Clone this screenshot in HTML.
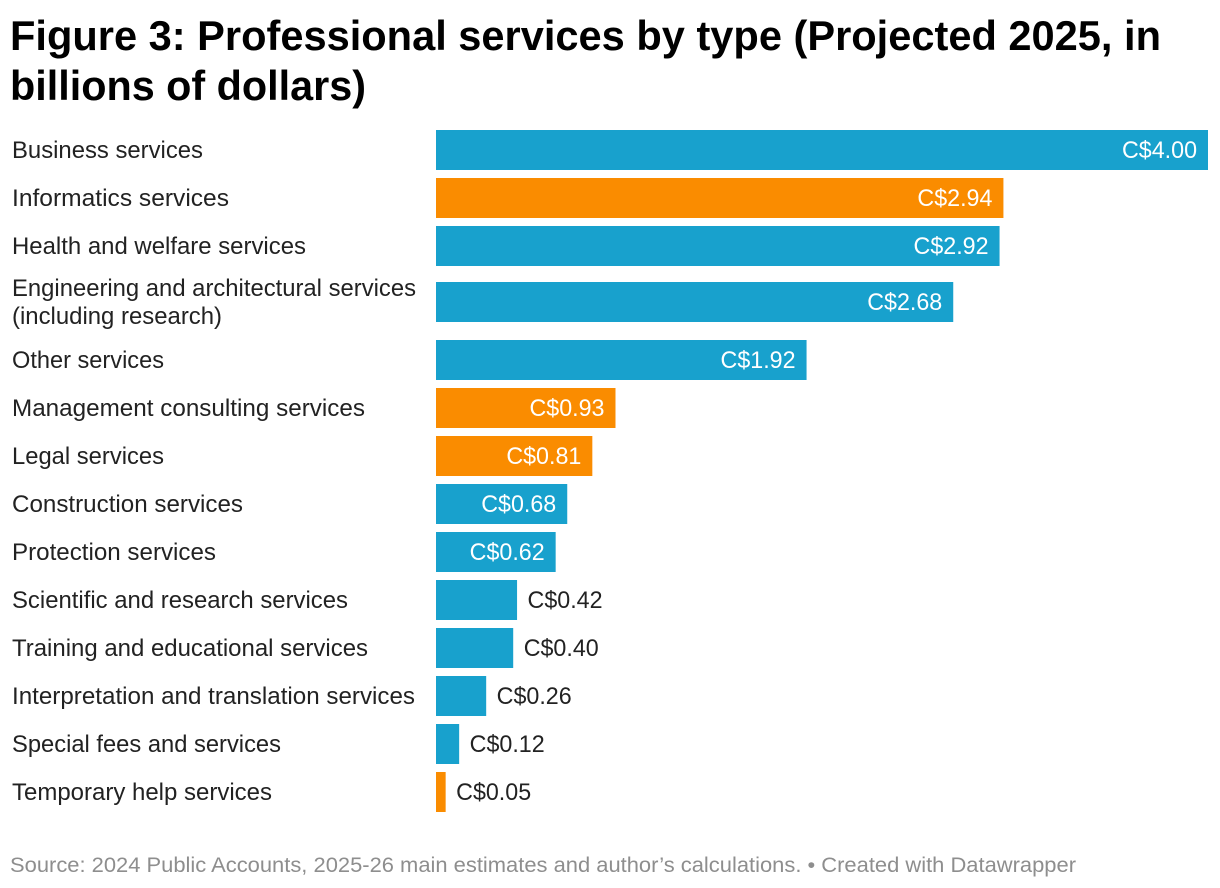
<!DOCTYPE html>
<html lang="en">
<head>
<meta charset="utf-8">
<title>Figure 3: Professional services by type</title>
<style>
html,body{margin:0;padding:0;background:#fff;width:1220px;height:888px;overflow:hidden}
svg{display:block;font-family:"Liberation Sans",Arial,sans-serif}
.title{font-size:42px;font-weight:700;fill:#000}
.cat{font-size:24px;fill:#222}
.val{font-size:24px}
.foot{font-size:21px;fill:#8e8e8e}
</style>
</head>
<body>
<svg id="chart" xmlns="http://www.w3.org/2000/svg" width="1220" height="888" viewBox="0 0 1220 888">
  <g>
    <text class="title" x="10" y="50" textLength="1151" lengthAdjust="spacingAndGlyphs">Figure 3: Professional services by type (Projected 2025, in</text>
    <text class="title" x="10" y="100" textLength="356" lengthAdjust="spacingAndGlyphs">billions of dollars)</text>
  </g>
  <g>
    <text class="cat" x="12" y="158" textLength="191" lengthAdjust="spacingAndGlyphs">Business services</text>
    <text class="cat" x="12" y="206" textLength="217" lengthAdjust="spacingAndGlyphs">Informatics services</text>
    <text class="cat" x="12" y="254" textLength="294" lengthAdjust="spacingAndGlyphs">Health and welfare services</text>
    <text class="cat" x="12" y="296" textLength="404" lengthAdjust="spacingAndGlyphs">Engineering and architectural services</text>
    <text class="cat" x="12" y="324" textLength="210" lengthAdjust="spacingAndGlyphs">(including research)</text>
    <text class="cat" x="12" y="368" textLength="152" lengthAdjust="spacingAndGlyphs">Other services</text>
    <text class="cat" x="12" y="416" textLength="353" lengthAdjust="spacingAndGlyphs">Management consulting services</text>
    <text class="cat" x="12" y="464" textLength="152" lengthAdjust="spacingAndGlyphs">Legal services</text>
    <text class="cat" x="12" y="512" textLength="231" lengthAdjust="spacingAndGlyphs">Construction services</text>
    <text class="cat" x="12" y="560" textLength="204" lengthAdjust="spacingAndGlyphs">Protection services</text>
    <text class="cat" x="12" y="608" textLength="336" lengthAdjust="spacingAndGlyphs">Scientific and research services</text>
    <text class="cat" x="12" y="656" textLength="356" lengthAdjust="spacingAndGlyphs">Training and educational services</text>
    <text class="cat" x="12" y="704" textLength="403" lengthAdjust="spacingAndGlyphs">Interpretation and translation services</text>
    <text class="cat" x="12" y="752" textLength="269" lengthAdjust="spacingAndGlyphs">Special fees and services</text>
    <text class="cat" x="12" y="800" textLength="260" lengthAdjust="spacingAndGlyphs">Temporary help services</text>
  </g>
  <g id="bars"></g>
  <g id="values"></g>
  <text class="foot" x="10" y="872" textLength="1066" lengthAdjust="spacingAndGlyphs">Source: 2024 Public Accounts, 2025-26 main estimates and author’s calculations. • Created with Datawrapper</text>
</svg>
<script>
const categories = ["Business services","Informatics services","Health and welfare services","Engineering and architectural services\n(including research)","Other services","Management consulting services","Legal services","Construction services","Protection services","Scientific and research services","Training and educational services","Interpretation and translation services","Special fees and services","Temporary help services"];
const values = [4.00,2.94,2.92,2.68,1.92,0.93,0.81,0.68,0.62,0.42,0.40,0.26,0.12,0.05];
const groups = ["other","focus","other","other","other","focus","focus","other","other","other","other","other","other","focus"];
const groupColors = {other:"#18a1cd",focus:"#fa8c00"};

const NS = "http://www.w3.org/2000/svg";
const domainMax = 4;
const plotLeft = 436, plotRight = 1208;
function xScale(v){ return plotLeft + (v / domainMax) * (plotRight - plotLeft); }

function rowTops(){
  const tops = [];
  let y = 130;
  categories.forEach(function(c){
    const multi = c.indexOf("\n") >= 0;
    if (multi) y += 8;
    tops.push(y);
    y += 48;
    if (multi) y += 10;
  });
  return tops;
}

const barsG = document.getElementById("bars");
const valuesG = document.getElementById("values");
const tops = rowTops();
const insideMin = 0.5;

values.forEach(function(v, i){
  const slug = categories[i].split("\n")[0].toLowerCase().replace(/[^a-z]+/g, "-");
  const r = document.createElementNS(NS, "rect");
  r.setAttribute("x", plotLeft);
  r.setAttribute("y", tops[i]);
  r.setAttribute("width", xScale(v) - plotLeft);
  r.setAttribute("height", 40);
  r.setAttribute("fill", groupColors[groups[i]]);
  
  
  barsG.appendChild(r);

  const t = document.createElementNS(NS, "text");
  const inside = v >= insideMin;
  t.setAttribute("class", "val");
  t.setAttribute("y", tops[i] + 28);
  t.setAttribute("x", inside ? xScale(v) - 11 : xScale(v) + 10.5);
  t.setAttribute("text-anchor", inside ? "end" : "start");
  t.setAttribute("fill", inside ? "#ffffff" : "#222222");
  t.setAttribute("textLength", "75");
  t.setAttribute("lengthAdjust", "spacingAndGlyphs");
  
  
  t.textContent = "C$" + v.toFixed(2);
  valuesG.appendChild(t);
});
</script>
</body>
</html>
